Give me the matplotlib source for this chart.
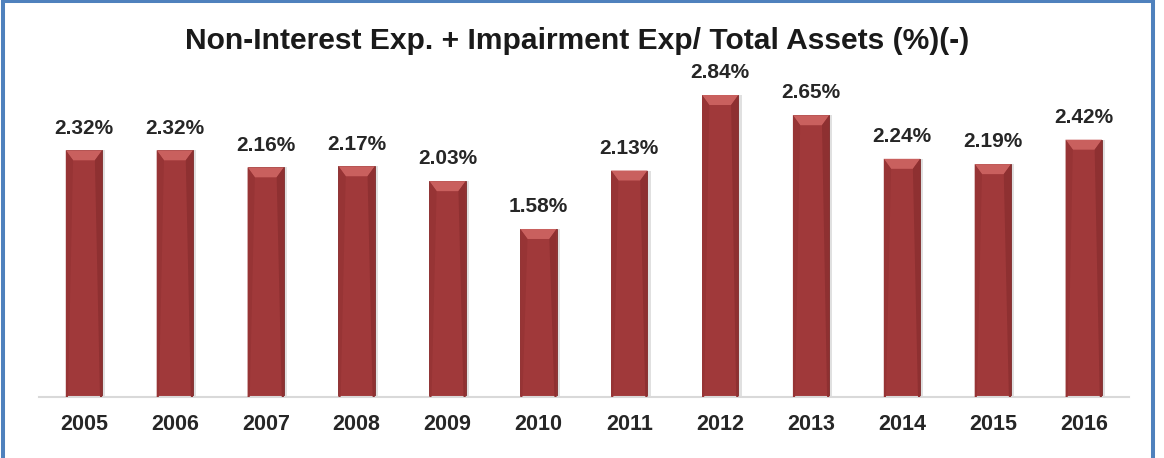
import matplotlib.pyplot as plt
from matplotlib.patches import Rectangle, Polygon
import numpy as np

years = ['2005', '2006', '2007', '2008', '2009', '2010',
         '2011', '2012', '2013', '2014', '2015', '2016']
values = [2.32, 2.32, 2.16, 2.17, 2.03, 1.58, 2.13, 2.84, 2.65, 2.24, 2.19, 2.42]
labels = ['2.32%', '2.32%', '2.16%', '2.17%', '2.03%', '1.58%',
          '2.13%', '2.84%', '2.65%', '2.24%', '2.19%', '2.42%']
title = 'Non-Interest Exp. + Impairment Exp/ Total Assets (%)(-)'

plt.rcParams['font.family'] = ['Liberation Sans', 'DejaVu Sans']

fig = plt.figure(figsize=(11.64, 4.58), dpi=100)
ax = fig.add_axes([0.0331, 0.1332, 0.937, 0.6965])

x = np.arange(len(years))
ymax = 3.0
bw = 0.40

# soft shadow behind bars
ax.bar(x + 0.035, values, width=bw, bottom=0, color='#000000', alpha=0.12, zorder=1)
bars = ax.bar(x, values, width=bw, color='#a0393a', edgecolor='#7a2a2a',
              linewidth=0.6, zorder=2)

# bevel on top of each bar
px_per_unit = (0.6965 * 458) / ymax
bev_h = 10 / px_per_unit
bev_w = bw * 0.2
for b in bars:
    x0 = b.get_x()
    x1 = x0 + b.get_width()
    top = b.get_height()
    face = Polygon([[x0, top], [x1, top], [x1 - bev_w, top - bev_h], [x0 + bev_w, top - bev_h]],
                   closed=True, facecolor='#c9605e', edgecolor='none', zorder=3)
    ax.add_patch(face)
    left = Polygon([[x0, top], [x0 + bev_w, top - bev_h], [x0 + bev_w * 0.3, 0], [x0, 0]],
                   closed=True, facecolor='#973435', edgecolor='none', zorder=3)
    right = Polygon([[x1, top], [x1 - bev_w, top - bev_h], [x1 - bev_w * 0.3, 0], [x1, 0]],
                    closed=True, facecolor='#8e3031', edgecolor='none', zorder=3)
    ax.add_patch(left)
    ax.add_patch(right)

for xi, v, lab in zip(x, values, labels):
    ax.annotate(lab, (xi, v), xytext=(0, 16), textcoords='offset points',
                ha='center', va='center', fontsize=15, fontweight='bold', color='#262626')

ax.set_xlim(-0.5, len(years) - 0.5)
ax.set_ylim(0, ymax)
ax.set_xticks(x)
ax.set_xticklabels(years, fontsize=15.5, fontweight='bold', color='#262626')
ax.tick_params(axis='x', length=0, pad=12)
ax.set_yticks([])
for s in ['top', 'right', 'left']:
    ax.spines[s].set_visible(False)
ax.spines['bottom'].set_color('#d9d9d9')
ax.spines['bottom'].set_linewidth(1.5)

fig.text(0.4957, 1 - 41 / 458, title, ha='center', va='center',
         fontsize=21.6, fontweight='bold', color='#1a1a1a')

border = Rectangle((2.5 / 1164, -0.05), (1152.5 - 2.5) / 1164, 1.05 - 1.5 / 458,
                   transform=fig.transFigure, fill=False, edgecolor='#4f81bd',
                   linewidth=2.9, clip_on=False)
fig.patches.append(border)

fig.savefig('out.png', dpi=100)
